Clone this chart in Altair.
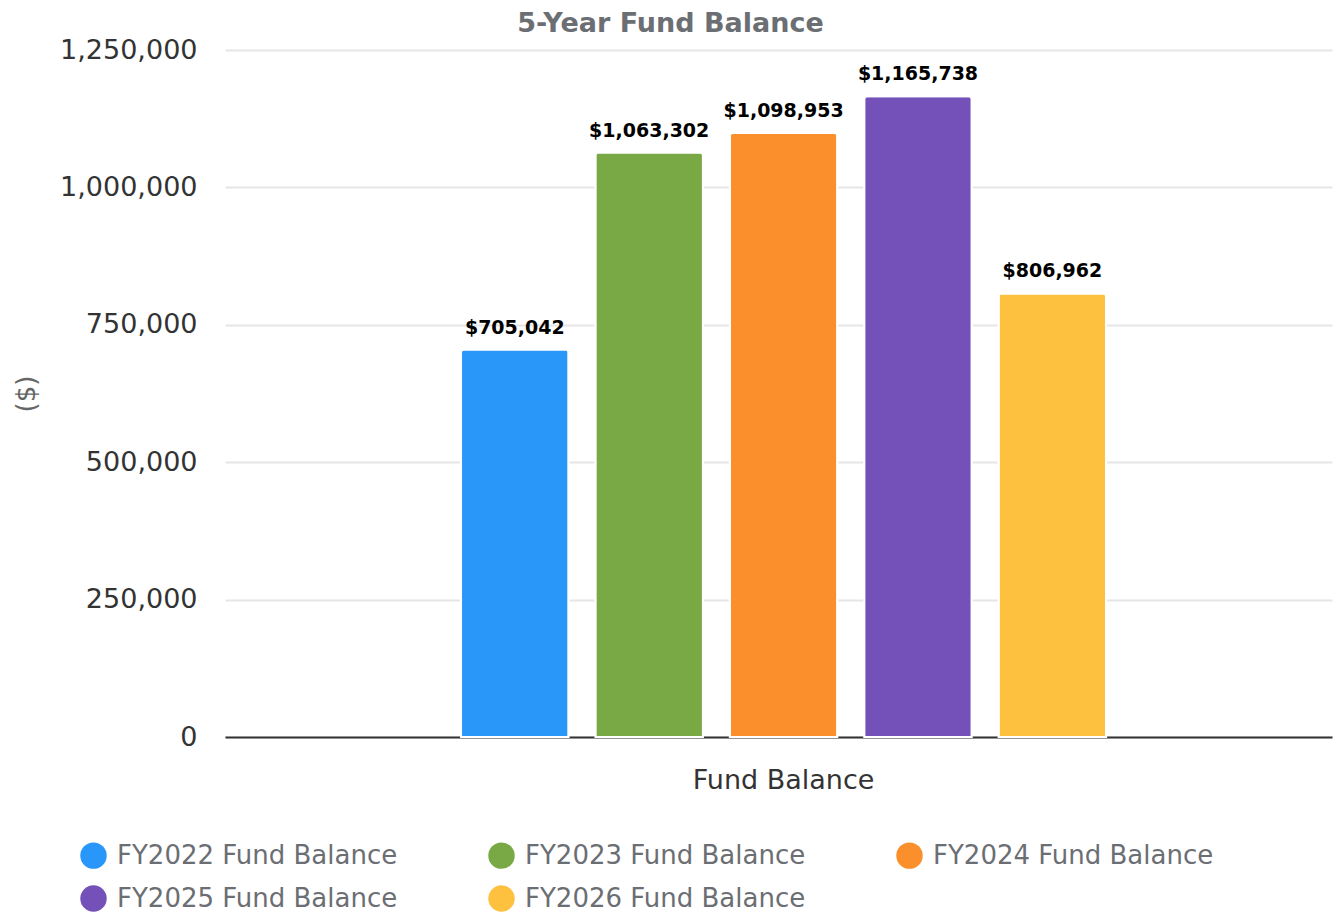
import altair as alt
import pandas as pd

series = ["FY2022 Fund Balance", "FY2023 Fund Balance", "FY2024 Fund Balance",
          "FY2025 Fund Balance", "FY2026 Fund Balance"]
values = [705042, 1063302, 1098953, 1165738, 806962]
colors = ["#2997fa", "#78a944", "#fb8f2c", "#7351b8", "#fec03f"]
category = "Fund Balance"
y_ticks = [0, 250000, 500000, 750000, 1000000, 1250000]

df = pd.DataFrame({"cat": [category] * len(series), "series": series, "value": values})
df["label"] = df["value"].map(lambda v: f"${v:,.0f}")

FONT = "DejaVu Sans"

x = alt.X("cat:N", title=None,
          scale=alt.Scale(paddingInner=0, paddingOuter=0.358, align=0.511),
          axis=alt.Axis(labelAngle=0, labelFontSize=27, labelColor="#333333", labelPadding=30,
                        labelLimit=500, ticks=False, domainColor="#333333", domainWidth=2,
                        labelFont=FONT))
xo = alt.XOffset("series:N", sort=series, scale=alt.Scale(paddingInner=0.2, paddingOuter=0))
y = alt.Y("value:Q", title="($)",
          scale=alt.Scale(domain=[0, 1250000], nice=False),
          axis=alt.Axis(values=y_ticks, format=",.0f",
                        labelFontSize=27, labelColor="#333333", labelPadding=28, ticks=False,
                        domain=False, gridColor="#e6e6e6", gridWidth=2,
                        titleFontSize=26, titleColor="#666666", titleFontWeight="normal",
                        titlePadding=20, labelFont=FONT, titleFont=FONT))

color = alt.Color("series:N", sort=series,
                  scale=alt.Scale(domain=series, range=colors),
                  legend=alt.Legend(title=None, orient="none", legendX=-145, legendY=792,
                                    direction="horizontal", columns=3, symbolType="circle",
                                    symbolSize=700, symbolStrokeWidth=0, labelFontSize=26,
                                    labelColor="#6b6e73", labelFont=FONT, columnPadding=90,
                                    rowPadding=16, labelOffset=10, gridAlign="all",
                                    labelLimit=400))

bars = alt.Chart(df).mark_bar(cornerRadiusTopLeft=3, cornerRadiusTopRight=3,
                              stroke="white", strokeWidth=2).encode(
    x=x, xOffset=xo, y=y, color=color)

labels = alt.Chart(df).mark_text(baseline="bottom", dy=-12, fontSize=19, fontWeight="bold",
                                 color="#000000", font=FONT).encode(
    x=x, xOffset=xo, y=y, text="label:N")

chart = (bars + labels).properties(
    width=1107, height=687,
    autosize=alt.AutoSizeParams(type="none"),
    padding={"left": 217, "top": 42, "right": 3, "bottom": 175},
    title=alt.TitleParams("5-Year Fund Balance", fontSize=27, fontWeight="bold",
                          color="#6b6e73", font=FONT, anchor="middle", dx=-108, offset=-2),
).configure_view(stroke=None)

chart.save("out.html", embed_options={"renderer": "svg", "actions": False})
